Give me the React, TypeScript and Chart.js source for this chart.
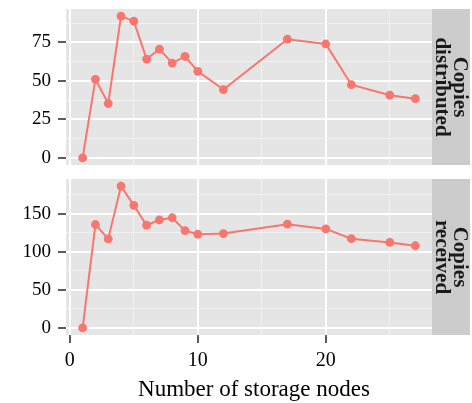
import React, { useEffect, useRef } from 'react';
import { Chart, registerables } from 'chart.js';
Chart.register(...registerables);

const nodes = [1, 2, 3, 4, 5, 6, 7, 8, 9, 10, 12, 17, 20, 22, 25, 27];
const copiesDistributed = [0, 51, 35.3, 92, 88.7, 64.1, 70.6, 61.5, 65.8, 56.2, 44.3, 77, 73.9, 47.5, 40.7, 38.4];
const copiesReceived = [0, 135.9, 116.9, 186.4, 161.1, 135, 142.1, 144.8, 127.9, 123.1, 124, 136.3, 130.1, 117.3, 112.4, 108];
const xMajor = [0, 10, 20];
const xMinor = [5, 15, 25];
const distMajor = [0, 25, 50, 75];
const distMinor = [12.5, 37.5, 62.5, 87.5];
const recvMajor = [0, 50, 100, 150];
const recvMinor = [25, 75, 125, 175];
const stripDist = ['Copies', 'distributed'];
const stripRecv = ['Copies', 'received'];
const xTitle = 'Number of storage nodes';

const LINE = '#F8766D';
const W = 472;

function expand(vals: number[]) {
  const lo = Math.min(...vals);
  const hi = Math.max(...vals);
  const p = (hi - lo) * 0.05;
  return [lo - p, hi + p];
}

function panelPlugin(strip: string[], showTitle: boolean) {
  return {
    id: 'panelDeco',
    beforeDraw(chart: any) {
      const { ctx, chartArea: a } = chart;
      ctx.save();
      ctx.fillStyle = '#E5E5E5';
      ctx.fillRect(a.left, a.top, a.right - a.left, a.bottom - a.top);
      ctx.fillStyle = '#CCCCCC';
      ctx.fillRect(a.right, a.top, 38, a.bottom - a.top);
      ctx.fillStyle = '#1A1A1A';
      ctx.font = 'bold 21px "Liberation Serif"';
      ctx.translate(a.right + 19, (a.top + a.bottom) / 2);
      ctx.rotate(Math.PI / 2);
      ctx.textAlign = 'center';
      ctx.textBaseline = 'alphabetic';
      ctx.fillText(strip[0], 0, -3);
      ctx.fillText(strip[1], 0, 15);
      ctx.restore();
    },
    afterDraw(chart: any) {
      if (!showTitle) return;
      const { ctx } = chart;
      ctx.save();
      ctx.fillStyle = '#000';
      ctx.font = '23px "Liberation Serif"';
      ctx.textAlign = 'center';
      ctx.textBaseline = 'alphabetic';
      ctx.fillText(xTitle, 254, 226);
      ctx.restore();
    },
  };
}

function makeChart(canvas: HTMLCanvasElement, values: number[], yMajor: number[], yMinor: number[], strip: string[], bottom: boolean) {
  const [ymin, ymax] = expand(values);
  const [xmin, xmax] = expand(nodes);
  const yAll = [...yMajor, ...yMinor].filter((v) => v >= ymin && v <= ymax).sort((p, q) => p - q);
  const xAll = [...xMajor, ...xMinor].filter((v) => v >= xmin && v <= xmax).sort((p, q) => p - q);
  const zeroPad = (s: any) => {
    s.paddingTop = 0;
    s.paddingBottom = 0;
    s.paddingLeft = 0;
    s.paddingRight = 0;
  };
  return new Chart(canvas, {
    type: 'line',
    data: {
      datasets: [
        {
          data: nodes.map((n, i) => ({ x: n, y: values[i] })),
          borderColor: LINE,
          backgroundColor: LINE,
          borderWidth: 2,
          pointRadius: 4.4,
          pointBackgroundColor: LINE,
          pointBorderWidth: 0,
          tension: 0,
        },
      ],
    },
    options: {
      animation: false,
      responsive: false,
      events: [],
      layout: { padding: { left: 0, right: 40, top: 9, bottom: bottom ? 0 : 5 } },
      plugins: { legend: { display: false }, tooltip: { enabled: false } },
      scales: {
        x: {
          type: 'linear',
          min: xmin,
          max: xmax,
          afterBuildTicks: (s: any) => {
            s.ticks = xAll.map((v) => ({ value: v }));
          },
          afterFit: (s: any) => {
            s.height = bottom ? 68 : 0;
            zeroPad(s);
          },
          border: { display: false },
          grid: {
            drawTicks: bottom,
            tickLength: 8,
            tickWidth: 1.6,
            tickColor: (c: any) => (xMajor.includes(c.tick?.value) ? '#333333' : 'rgba(0,0,0,0)'),
            color: (c: any) => (xMajor.includes(c.tick?.value) ? '#FFFFFF' : '#F2F2F2'),
            lineWidth: (c: any) => (xMajor.includes(c.tick?.value) ? 2 : 1),
          },
          ticks: {
            display: bottom,
            autoSkip: false,
            maxRotation: 0,
            padding: 6,
            color: '#000',
            font: { family: '"Liberation Serif"', size: 20 },
            callback: (v: any) => (xMajor.includes(v) ? String(v) : ''),
          },
        },
        y: {
          type: 'linear',
          min: ymin,
          max: ymax,
          afterBuildTicks: (s: any) => {
            s.ticks = yAll.map((v) => ({ value: v }));
          },
          afterFit: (s: any) => {
            s.width = 66;
            zeroPad(s);
          },
          border: { display: false },
          grid: {
            drawTicks: true,
            tickLength: 8,
            tickWidth: 1.6,
            tickColor: (c: any) => (yMajor.includes(c.tick?.value) ? '#333333' : 'rgba(0,0,0,0)'),
            color: (c: any) => (yMajor.includes(c.tick?.value) ? '#FFFFFF' : '#F2F2F2'),
            lineWidth: (c: any) => (yMajor.includes(c.tick?.value) ? 2 : 1),
          },
          ticks: {
            autoSkip: false,
            padding: 7,
            color: '#000',
            font: { family: '"Liberation Serif"', size: 19 },
            callback: (v: any) => (yMajor.includes(v) ? String(v) : ''),
          },
        },
      },
    },
    plugins: [panelPlugin(strip, bottom)],
  } as any);
}

export default function App() {
  const topRef = useRef<HTMLCanvasElement>(null);
  const botRef = useRef<HTMLCanvasElement>(null);
  useEffect(() => {
    const a = makeChart(topRef.current!, copiesDistributed, distMajor, distMinor, stripDist, false);
    const b = makeChart(botRef.current!, copiesReceived, recvMajor, recvMinor, stripRecv, true);
    return () => {
      a.destroy();
      b.destroy();
    };
  }, []);
  return (
    <div style={{ position: 'absolute', left: 0, top: 0, width: W, height: 403, background: '#fff' }}>
      <canvas ref={topRef} width={W} height={170} style={{ display: 'block', width: W, height: 170 }} />
      <canvas ref={botRef} width={W} height={233} style={{ display: 'block', width: W, height: 233 }} />
    </div>
  );
}
